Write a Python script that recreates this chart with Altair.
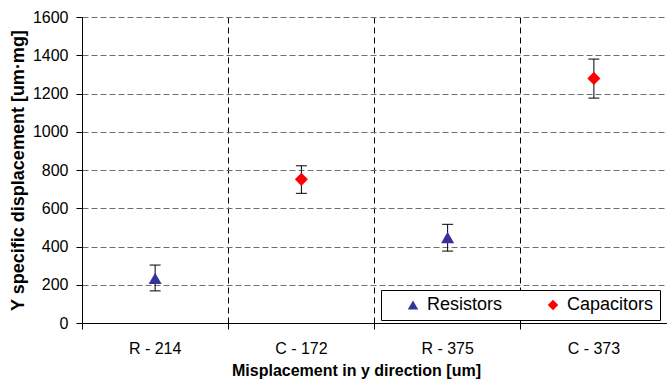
import altair as alt
import pandas as pd

categories = ["R - 214", "C - 172", "R - 375", "C - 373"]
series = ["Resistors", "Capacitors", "Resistors", "Capacitors"]
values = [233, 751, 447, 1279]
err_low = [168, 678, 376, 1176]
err_high = [303, 822, 516, 1380]
y_ticks = [0, 200, 400, 600, 800, 1000, 1200, 1400, 1600]
series_order = ["Resistors", "Capacitors"]
series_colors = ["#333399", "#FF0000"]
series_shapes = ["triangle-up", "diamond"]

df = pd.DataFrame({
    "cat": categories,
    "series": series,
    "value": values,
    "low": err_low,
    "high": err_high,
})

FONT = "Liberation Sans"

x_enc = alt.X(
    "cat:N",
    sort=categories,
    scale=alt.Scale(paddingInner=0, paddingOuter=0),
    axis=alt.Axis(
        title="Misplacement in y  direction [um]",
        bandPosition=0,
        grid=True,
        gridColor="#000000",
        gridDash=[6, 4],
        gridWidth=1,
        tickColor="#000000",
        tickSize=6,
        domainColor="#000000",
        labelAngle=0,
        labelFontSize=16,
        labelPadding=11,
        labelColor="#000000",
        titleFontSize=16,
        titleFontWeight="bold",
        titleColor="#000000",
        titleX=274,
        titleY=52,
        titleBaseline="alphabetic",
    ),
)

y_scale = alt.Scale(domain=[0, 1600], nice=False)
y_axis = alt.Axis(
    title="Y specific displacement [um·mg]",
    values=y_ticks,
    format="d",
    labelOverlap=False,
    grid=True,
    gridColor="#707070",
    gridDash=[6, 3],
    gridWidth=1,
    tickColor="#000000",
    tickSize=6,
    domainColor="#000000",
    labelFontSize=16,
    labelPadding=8,
    labelColor="#000000",
    titleFontSize=18,
    titleFontWeight="bold",
    titleColor="#000000",
    titlePadding=5,
)

base = alt.Chart(df)

rules = base.mark_rule(color="#000000", strokeWidth=1).encode(
    x=x_enc, y=alt.Y("low:Q", scale=y_scale, axis=y_axis), y2="high:Q"
)
caps_low = base.mark_tick(color="#000000", size=11, thickness=1, opacity=1).encode(
    x=x_enc, y=alt.Y("low:Q", scale=y_scale, axis=y_axis)
)
caps_high = base.mark_tick(color="#000000", size=11, thickness=1, opacity=1).encode(
    x=x_enc, y=alt.Y("high:Q", scale=y_scale, axis=y_axis)
)

legend_cfg = dict(
    title=None,
    orient="none",
    legendX=299,
    legendY=273,
    direction="horizontal",
    fillColor="#FFFFFF",
    strokeColor="#000000",
    padding=6,
    symbolOffset=17,
    labelOffset=5,
    columnPadding=24,
    labelFontSize=18,
    labelFont=FONT,
    labelColor="#000000",
    symbolSize=110,
)

points = base.mark_point(filled=True, size=170, opacity=1, strokeWidth=0).encode(
    x=x_enc,
    y=alt.Y("value:Q", scale=y_scale, axis=y_axis),
    color=alt.Color(
        "series:N",
        scale=alt.Scale(domain=series_order, range=series_colors),
        legend=alt.Legend(**legend_cfg),
    ),
    shape=alt.Shape(
        "series:N",
        scale=alt.Scale(domain=series_order, range=series_shapes),
        legend=alt.Legend(**legend_cfg),
    ),
)

chart = (
    alt.layer(rules, caps_low, caps_high, points)
    .properties(
        width=585,
        height=306,
        autosize=alt.AutoSizeParams(type="none"),
        padding={"left": 82, "top": 17, "right": 0, "bottom": 60},
        background="#FFFFFF",
    )
    .configure_view(stroke=None)
    .configure_axis(labelFont=FONT, titleFont=FONT)
    .configure_legend(labelFont=FONT)
)

chart.save("out.html", embed_options={"renderer": "svg", "actions": False})
